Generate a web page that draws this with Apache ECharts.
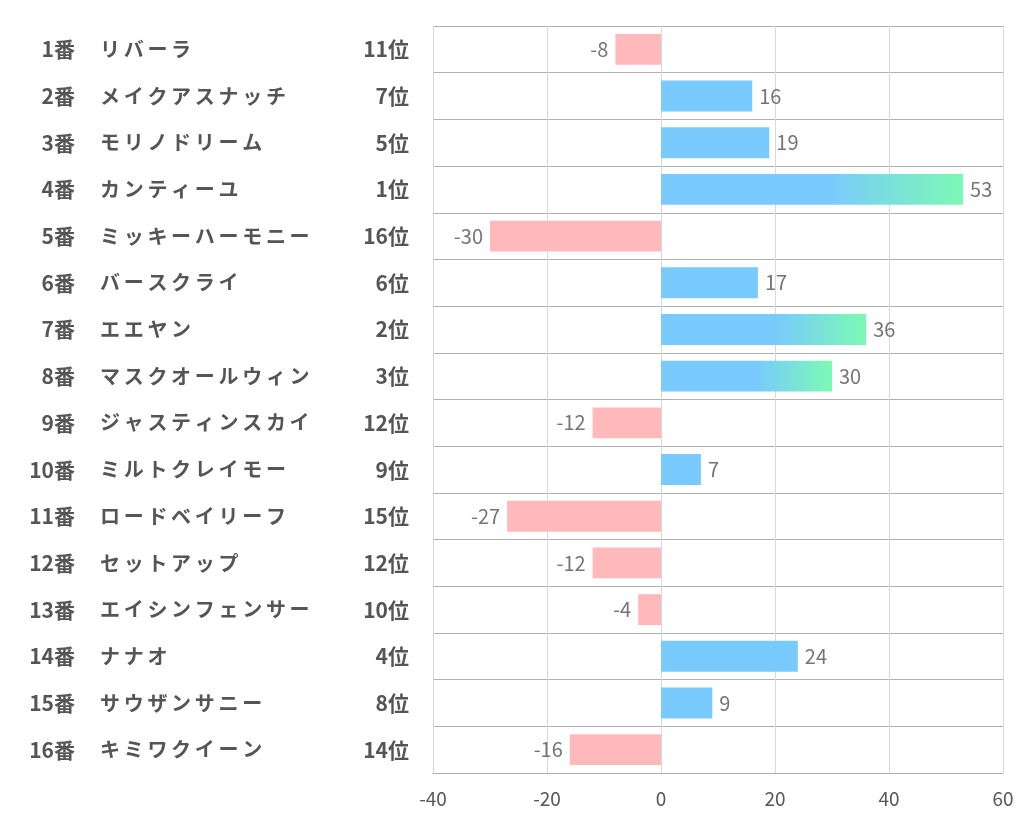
<!DOCTYPE html>
<html><head><meta charset="utf-8">
<script src="https://cdn.jsdelivr.net/npm/echarts@6/dist/echarts.min.js"></script>
<style>html,body{margin:0;padding:0;background:#fff}#c{width:1022px;height:834px}</style>
</head><body><div id="c"></div>
<script>
const numbers = ['1番','2番','3番','4番','5番','6番','7番','8番','9番','10番','11番','12番','13番','14番','15番','16番'];
const names = ['リバーラ','メイクアスナッチ','モリノドリーム','カンティーユ','ミッキーハーモニー','バースクライ','エエヤン','マスクオールウィン','ジャスティンスカイ','ミルトクレイモー','ロードベイリーフ','セットアップ','エイシンフェンサー','ナナオ','サウザンサニー','キミワクイーン'];
const ranks = ['11位','7位','5位','1位','16位','6位','2位','3位','12位','9位','15位','12位','10位','4位','8位','14位'];
const values = [-8, 16, 19, 53, -30, 17, 36, 30, -12, 7, -27, -12, -4, 24, 9, -16];
const xTicks = [-40, 60, 20];

const FONT = '"Noto Sans CJK JP","Noto Sans",sans-serif';
const chart = echarts.init(document.getElementById('c'));
const gradient = new echarts.graphic.LinearGradient(0, 0, 1, 0, [
  {offset: 0, color: '#79CAFE'}, {offset: 0.55, color: '#79CAFE'}, {offset: 1, color: '#7CF9B4'}
]);
const data = values.map((v, i) => {
  const r = parseInt(ranks[i]);
  let color = v < 0 ? '#FFB9BB' : '#79CAFE';
  if (r <= 3 && v > 0) color = gradient;
  return {
    value: v,
    itemStyle: {color},
    label: {position: v < 0 ? 'left' : 'right'}
  };
});
const labelBase = {fontFamily: FONT, fontSize: 21, fontWeight: 'bold', color: '#555'};
function yAx(d, align, margin, extra) {
  return Object.assign({
    type: 'category', data: d, inverse: true, position: 'left',
    axisLine: {show: false}, axisTick: {show: false},
    axisLabel: Object.assign({align, margin}, labelBase),
    splitLine: {show: false}
  }, extra || {});
}
chart.setOption({
  animation: false,
  grid: {left: 433, right: 19, top: 26, bottom: 61, containLabel: false},
  xAxis: {
    type: 'value', min: xTicks[0], max: xTicks[1], interval: xTicks[2],
    axisLine: {show: true, lineStyle: {color: '#b0b0b0'}},
    axisTick: {show: false},
    axisLabel: {fontFamily: FONT, fontSize: 19, color: '#595959', margin: 16},
    splitLine: {show: true, lineStyle: {color: '#d9d9d9'}}
  },
  yAxis: [
    yAx(ranks, 'right', 24, {splitLine: {show: true, lineStyle: {color: '#b0b0b0'}}}),
    yAx(numbers, 'right', 358),
    yAx(names, 'left', 333, {
      axisLabel: {
        align: 'left', margin: 333,
        formatter: v => v.split('').map(ch => '{c|' + ch + '}').join(''),
        rich: {c: {width: 23.7, fontFamily: FONT, fontSize: 20, fontWeight: 'bold', color: '#555'}}
      }
    })
  ],
  series: [{
    type: 'bar', yAxisIndex: 0, data, barWidth: '66%',
    label: {show: true, fontFamily: FONT, fontSize: 20, color: '#757575', distance: 7}
  }]
});
</script></body></html>
